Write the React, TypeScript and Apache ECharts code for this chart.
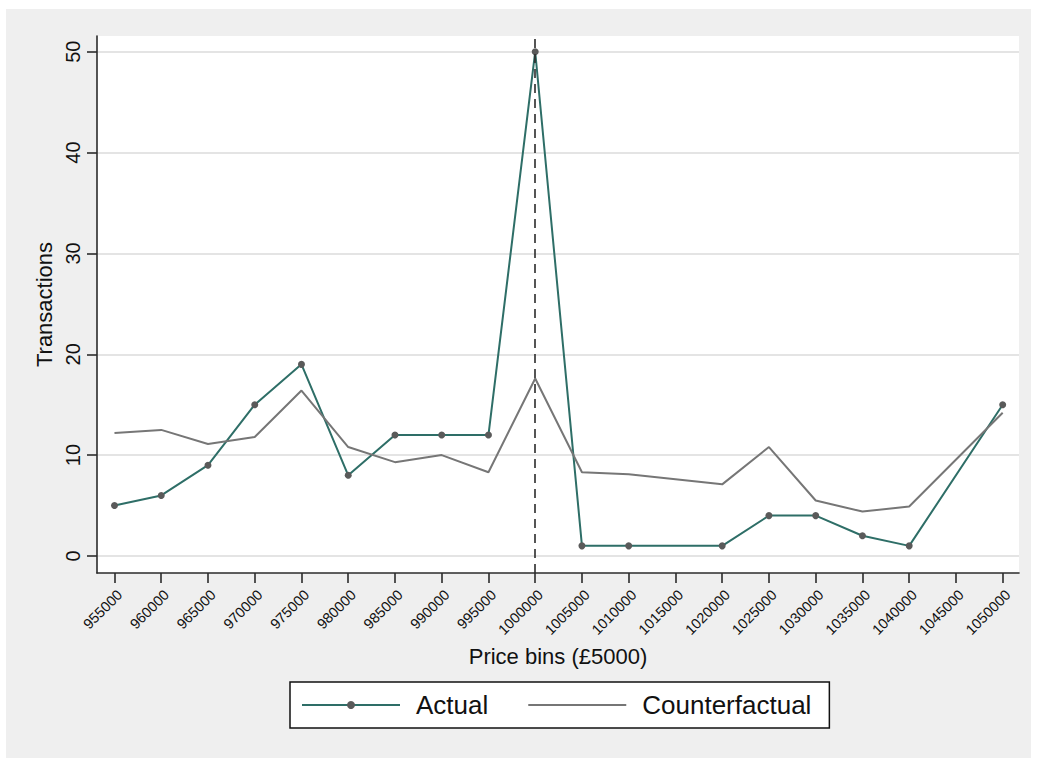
import React, { useEffect, useRef } from "react";
import * as echarts from "echarts";

// Price bins (in £) that have observations, with transaction counts
const priceBins = [
  955000, 960000, 965000, 970000, 975000, 980000, 985000, 990000, 995000,
  1000000, 1005000, 1010000, 1020000, 1025000, 1030000, 1035000, 1040000, 1050000,
];
const actual = [5, 6, 9, 15, 19, 8, 12, 12, 12, 50, 1, 1, 1, 4, 4, 2, 1, 15];
const counterfactual = [
  12.2, 12.5, 11.1, 11.8, 16.4, 10.8, 9.3, 10.0, 8.3, 17.6, 8.3, 8.1, 7.1, 10.8, 5.5, 4.4, 4.9, 14.2,
];

// Axis tick values
const xTicks = [
  955000, 960000, 965000, 970000, 975000, 980000, 985000, 990000, 995000, 1000000,
  1005000, 1010000, 1015000, 1020000, 1025000, 1030000, 1035000, 1040000, 1045000, 1050000,
];
const yTicks = [0, 10, 20, 30, 40, 50];

// Stamp-duty threshold marked with a dashed line
const threshold = 1000000;

const FONT = "'Liberation Sans', Arial, Helvetica, sans-serif";
const INK = "#111111";
const AXIS = "#2b2b2b";

export default function App() {
  const ref = useRef<HTMLDivElement>(null);

  useEffect(() => {
    if (!ref.current) return;
    const chart = echarts.init(ref.current, undefined, { renderer: "svg" });

    const actualData = priceBins.map((x, i) => [x, actual[i]]);
    const counterData = priceBins.map((x, i) => [x, counterfactual[i]]);

    chart.setOption({
      animation: false,
      textStyle: { fontFamily: FONT },
      grid: {
        left: 97,
        right: 18,
        top: 36,
        bottom: 185,
        show: true,
        backgroundColor: "#ffffff",
        borderWidth: 0,
      },
      xAxis: {
        type: "value",
        min: 953130,
        max: 1051745,
        name: "Price bins (£5000)",
        nameLocation: "middle",
        nameGap: 72,
        nameTextStyle: { fontSize: 22, color: INK, fontFamily: FONT },
        axisLine: { show: true, onZero: false, lineStyle: { color: AXIS, width: 1.6 } },
        axisTick: {
          show: true,
          length: 10,
          customValues: xTicks,
          lineStyle: { color: AXIS, width: 1.6 },
        },
        axisLabel: {
          customValues: xTicks,
          rotate: 45,
          align: "right",
          verticalAlign: "top",
          fontSize: 14.5,
          margin: 14,
          color: INK,
          fontFamily: FONT,
          formatter: (v: number) => String(Math.round(v)),
        },
        splitLine: { show: false },
      },
      yAxis: {
        type: "value",
        min: -1.69,
        max: 51.56,
        name: "Transactions",
        nameLocation: "middle",
        nameGap: 35,
        nameTextStyle: { fontSize: 22, color: INK, fontFamily: FONT },
        axisLine: { show: true, onZero: false, lineStyle: { color: AXIS, width: 1.6 } },
        axisTick: {
          show: true,
          length: 10,
          customValues: yTicks,
          lineStyle: { color: AXIS, width: 1.6 },
        },
        axisLabel: {
          customValues: yTicks,
          rotate: 90,
          fontSize: 20,
          margin: 14,
          color: INK,
          fontFamily: FONT,
          formatter: (v: number) => String(Math.round(v)),
        },
        splitLine: {
          show: true,
          customValues: yTicks,
          lineStyle: { color: "#e4e4e4", width: 1.8 },
        },
      },
      legend: {
        left: 290,
        top: 682,
        orient: "horizontal",
        selectedMode: false,
        itemWidth: 98,
        itemHeight: 10,
        itemGap: 39,
        padding: [10, 18, 10, 11],
        borderColor: INK,
        borderWidth: 1.5,
        borderRadius: 0,
        backgroundColor: "#ffffff",
        textStyle: { fontSize: 26, color: INK, fontFamily: FONT, padding: [0, 0, 0, 11] },
        data: [
          { name: "Actual" },
          { name: "Counterfactual", itemStyle: { opacity: 0 } },
        ],
      },
      series: [
        {
          name: "Actual",
          type: "line",
          data: actualData,
          symbol: "circle",
          symbolSize: 7,
          z: 2,
          itemStyle: { color: "#5a5a5a" },
          lineStyle: { color: "#2e6e67", width: 2 },
          emphasis: { disabled: true },
          markLine: {
            silent: true,
            symbol: "none",
            label: { show: false },
            lineStyle: { color: "#2b2b2b", type: [9, 6], width: 1.6 },
            emphasis: { disabled: true },
            data: [{ xAxis: threshold }],
          },
        },
        {
          name: "Counterfactual",
          type: "line",
          data: counterData,
          symbol: "none",
          z: 3,
          itemStyle: { color: "#767676" },
          lineStyle: { color: "#767676", width: 2 },
          emphasis: { disabled: true },
        },
      ],
    });

    return () => chart.dispose();
  }, []);

  return (
    <div
      style={{
        position: "absolute",
        left: 0,
        top: 0,
        width: 1037,
        height: 758,
        background: "#ffffff",
        overflow: "hidden",
      }}
    >
      <div
        style={{
          position: "absolute",
          left: 6,
          top: 9,
          width: 1025,
          height: 749,
          background: "#efefef",
        }}
      />
      <div
        ref={ref}
        style={{ position: "absolute", left: 0, top: 0, width: 1037, height: 758 }}
      />
    </div>
  );
}
